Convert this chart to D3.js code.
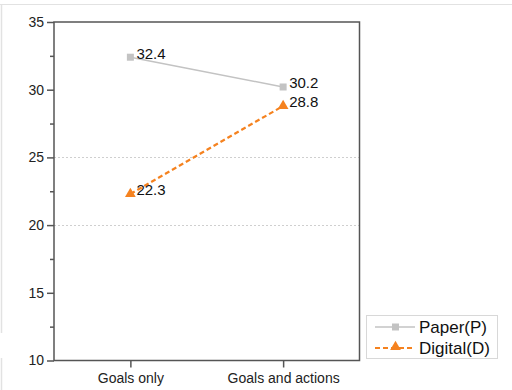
<!DOCTYPE html>
<html>
<head>
<meta charset="utf-8">
<script src="https://cdn.jsdelivr.net/npm/d3@7"></script>
<style>
  html, body { margin: 0; padding: 0; background: #fff; }
  svg { display: block; font-family: "Liberation Sans", Arial, sans-serif; }
</style>
</head>
<body>
<svg id="chart" width="512" height="390"></svg>
<script>
// Conditions on the x axis
const categories = ["Goals only", "Goals and actions"];
// Series values
const paperValues = [32.4, 30.2];
const digitalValues = [22.3, 28.8];
const seriesNames = ["Paper(P)", "Digital(D)"];
// Axis ticks
const yMajorTicks = [10, 15, 20, 25, 30, 35];
const yMinorTicks = [12.5, 17.5, 22.5, 27.5, 32.5];
const gridValues = [20, 25];

const svg = d3.select("#chart");
const plotLeft = 54, plotRight = 359.5, plotTop = 22, plotBottom = 360.5;

const x = d3.scalePoint().domain(categories).range([plotLeft, plotRight]).padding(0.5);
const y = d3.scaleLinear().domain([10, 35]).range([plotBottom, plotTop]);

// faint outer frame (top and left edges)
svg.append("line").attr("x1", 0).attr("x2", 512).attr("y1", 4.5).attr("y2", 4.5)
  .attr("stroke", "#e2e2e2").attr("stroke-width", 1);
svg.append("line").attr("x1", 1.5).attr("x2", 1.5).attr("y1", 4.5).attr("y2", 333)
  .attr("stroke", "#e2e2e2").attr("stroke-width", 1.5);
svg.append("line").attr("x1", 1.5).attr("x2", 1.5).attr("y1", 358).attr("y2", 390)
  .attr("stroke", "#e2e2e2").attr("stroke-width", 1.5);

// dotted gridlines
svg.append("g").selectAll("line").data(gridValues).join("line")
  .attr("x1", plotLeft).attr("x2", plotRight)
  .attr("y1", d => Math.round(y(d)) + 0.5).attr("y2", d => Math.round(y(d)) + 0.5)
  .attr("stroke", "#cfcfcf").attr("stroke-width", 1).attr("stroke-dasharray", "2,2");

const axisColor = "#555";

// left axis with major ticks and labels
const yAxis = svg.append("g").attr("transform", `translate(${plotLeft},0)`)
  .call(d3.axisLeft(y).tickValues(yMajorTicks).tickSize(7).tickPadding(3).tickFormat(d3.format("d")));
yAxis.select(".domain").remove();
yAxis.selectAll(".tick line").attr("stroke", axisColor).attr("stroke-width", 1.5);
yAxis.selectAll(".tick text").attr("fill", "#222").style("font-size", "14px")
  .style("font-family", "'Liberation Sans', Arial, sans-serif");

// minor ticks
svg.append("g").attr("transform", `translate(${plotLeft},0)`)
  .call(d3.axisLeft(y).tickValues(yMinorTicks).tickSize(4).tickFormat(""))
  .call(g => g.select(".domain").remove())
  .call(g => g.selectAll(".tick line").attr("stroke", axisColor).attr("stroke-width", 1.5));

// bottom axis
const xAxis = svg.append("g").attr("transform", `translate(0,${plotBottom})`)
  .call(d3.axisBottom(x).tickSize(7).tickPadding(6));
xAxis.select(".domain").remove();
xAxis.selectAll(".tick line").attr("stroke", axisColor).attr("stroke-width", 1.5);
xAxis.selectAll(".tick text").attr("fill", "#222").style("font-size", "14px")
  .style("font-family", "'Liberation Sans', Arial, sans-serif");

// plot frame
svg.append("rect").attr("x", plotLeft).attr("y", plotTop)
  .attr("width", plotRight - plotLeft).attr("height", plotBottom - plotTop)
  .attr("fill", "none").attr("stroke", axisColor).attr("stroke-width", 1.5);

const paperColor = "#c3c3c3";
const digitalColor = "#f5821f";

const line = d3.line().x((d, i) => x(categories[i])).y(d => y(d));

// Paper series
svg.append("path").datum(paperValues).attr("d", line)
  .attr("fill", "none").attr("stroke", paperColor).attr("stroke-width", 1.5);
svg.append("g").selectAll("rect").data(paperValues).join("rect")
  .attr("x", (d, i) => x(categories[i]) - 3.5).attr("y", d => y(d) - 3.5)
  .attr("width", 7).attr("height", 7).attr("fill", paperColor);

// Digital series
svg.append("path").datum(digitalValues).attr("d", line)
  .attr("fill", "none").attr("stroke", digitalColor).attr("stroke-width", 2.2)
  .attr("stroke-dasharray", "5,3");
const tri = d3.symbol().type(d3.symbolTriangle).size(50);
svg.append("g").selectAll("path").data(digitalValues).join("path")
  .attr("d", tri)
  .attr("transform", (d, i) => `translate(${x(categories[i])},${y(d)})`)
  .attr("fill", digitalColor);

// value labels
const labels = [];
paperValues.forEach((v, i) => labels.push({ v, i }));
digitalValues.forEach((v, i) => labels.push({ v, i }));
svg.append("g").selectAll("text").data(labels).join("text")
  .attr("x", d => x(categories[d.i]) + 6)
  .attr("y", d => y(d.v) + 1.5)
  .attr("fill", "#111")
  .style("font-size", "15px")
  .text(d => d.v.toFixed(1));

// legend
const legend = svg.append("g");
legend.append("rect").attr("x", 366.5).attr("y", 315.5).attr("width", 131).attr("height", 43)
  .attr("fill", "#fff").attr("stroke", "#d8d8d8").attr("stroke-width", 1);
const legendRows = [
  { name: seriesNames[0], color: paperColor, y: 327, dash: null, marker: "square" },
  { name: seriesNames[1], color: digitalColor, y: 348, dash: "5,3", marker: "triangle" }
];
legendRows.forEach(r => {
  legend.append("line").attr("x1", 375).attr("x2", 415).attr("y1", r.y).attr("y2", r.y)
    .attr("stroke", r.color).attr("stroke-width", r.dash ? 2.2 : 1.5)
    .attr("stroke-dasharray", r.dash);
  if (r.marker === "square") {
    legend.append("rect").attr("x", 392).attr("y", r.y - 3.5).attr("width", 7).attr("height", 7)
      .attr("fill", r.color);
  } else {
    legend.append("path").attr("d", tri).attr("transform", `translate(395.5,${r.y - 1})`)
      .attr("fill", r.color);
  }
  legend.append("text").attr("x", 419).attr("y", r.y + 6)
    .attr("fill", "#111").style("font-size", "17px").text(r.name);
});
</script>
</body>
</html>
